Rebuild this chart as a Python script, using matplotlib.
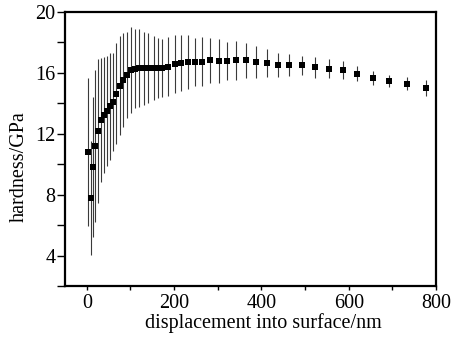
import matplotlib
matplotlib.use("Agg")
import matplotlib.pyplot as plt
from matplotlib.ticker import MultipleLocator

depth_nm = [2, 9, 13, 19, 26, 32, 39, 47, 54, 60, 67, 75, 84, 93, 101, 110, 120, 130,
            141, 153, 163, 172, 186, 201, 215, 231, 247, 265, 283, 302, 321, 342, 365,
            388, 412, 437, 464, 492, 523, 554, 586, 619, 655, 693, 733, 776]
hardness_gpa = [10.81, 7.76, 9.80, 11.18, 12.16, 12.88, 13.25, 13.5, 13.8, 14.08, 14.62,
                15.14, 15.49, 15.86, 16.19, 16.25, 16.3, 16.3, 16.3, 16.3, 16.3, 16.32,
                16.4, 16.56, 16.62, 16.69, 16.69, 16.72, 16.8, 16.76, 16.76, 16.8, 16.8,
                16.72, 16.63, 16.52, 16.52, 16.47, 16.34, 16.27, 16.19, 15.93, 15.65,
                15.47, 15.27, 14.99]
hardness_err = [4.85, 3.74, 4.6, 5.0, 4.74, 4.08, 3.81, 3.6, 3.51, 3.24, 3.3, 3.25, 3.08,
                2.81, 2.81, 2.6, 2.55, 2.4, 2.28, 2.1, 1.97, 1.9, 1.95, 1.88, 1.83, 1.76,
                1.57, 1.59, 1.46, 1.44, 1.24, 1.3, 1.14, 1.04, 0.93, 0.78, 0.73, 0.63,
                0.69, 0.62, 0.58, 0.5, 0.49, 0.38, 0.44, 0.5]

x_label = "displacement into surface/nm"
y_label = "hardness/GPa"

plt.rcParams['font.family'] = ['Liberation Serif', 'DejaVu Serif']

fig = plt.figure(figsize=(4.63, 3.42), dpi=100)
ax = fig.add_axes([0.1404, 0.1637, 0.8013, 0.8021])

ax.errorbar(depth_nm, hardness_gpa, yerr=hardness_err, fmt='s', color='black',
            markersize=5, ecolor='#3a3a3a', elinewidth=0.8, capsize=2.8,
            capthick=0.8, markeredgewidth=0)

ax.set_xlim(-50, 800)
ax.set_ylim(2, 20)
ax.xaxis.set_major_locator(MultipleLocator(200))
ax.xaxis.set_minor_locator(MultipleLocator(100))
ax.yaxis.set_major_locator(MultipleLocator(4))
ax.yaxis.set_minor_locator(MultipleLocator(2))

ax.tick_params(which='both', direction='out', labelsize=14.5, width=1.0)
ax.tick_params(axis='y', which='both', length=6, pad=1)
ax.tick_params(axis='x', which='both', length=3, pad=3)

for s in ax.spines.values():
    s.set_linewidth(1.6)

ax.set_xlabel(x_label, fontsize=14.5, labelpad=0)
ax.set_ylabel(y_label, fontsize=14.5, labelpad=3)
ax.xaxis.set_label_coords(0.534, -0.1)
ax.yaxis.set_label_coords(-0.097, 0.436)

fig.savefig("out.png", dpi=100)
